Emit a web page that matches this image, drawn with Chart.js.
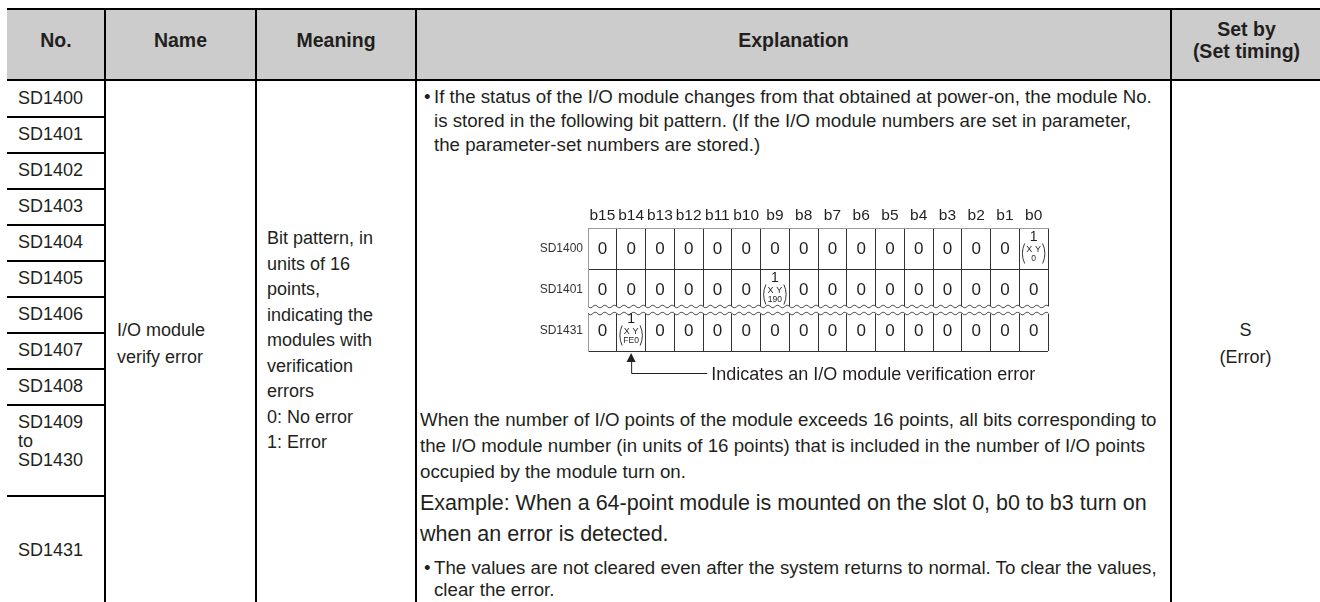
<!DOCTYPE html>
<html>
<head>
<meta charset="utf-8">
<script src="https://cdn.jsdelivr.net/npm/chart.js@4.4.1/dist/chart.umd.min.js"></script>
<style>
html, body { margin: 0; padding: 0; background: #fff; }
#page { position: relative; width: 1320px; height: 602px; overflow: hidden;
        font-family: "Liberation Sans", Arial, sans-serif; color: #231f20; }
.t { position: absolute; white-space: nowrap; }
.ln { position: absolute; background: #000; }
#bits { position: absolute; left: 490px; top: 195px; }
</style>
</head>
<body>
<div id="page"><canvas id="bits" width="580" height="195"></canvas></div>
<script>
// texts of the table
const headerLabels = ['No.', 'Name', 'Meaning', 'Explanation', 'Set by\n(Set timing)'];
const registerRows = ['SD1400', 'SD1401', 'SD1402', 'SD1403', 'SD1404', 'SD1405', 'SD1406',
                      'SD1407', 'SD1408', 'SD1409\nto\nSD1430', 'SD1431'];
const nameLines = ['I/O module', 'verify error'];
const meaningLines = ['Bit pattern, in', 'units of 16', 'points,', 'indicating the', 'modules with',
                      'verification', 'errors', '0: No error', '1: Error'];
const setByLines = ['S', '(Error)'];
const explanationTop = [
  '• If the status of the I/O module changes from that obtained at power-on, the module No.',
  'is stored in the following bit pattern. (If the I/O module numbers are set in parameter,',
  'the parameter-set numbers are stored.)'
];
const explanationMiddle = [
  'When the number of I/O points of the module exceeds 16 points, all bits corresponding to',
  'the I/O module number (in units of 16 points) that is included in the number of I/O points',
  'occupied by the module turn on.'
];
const exampleLines = [
  'Example: When a 64-point module is mounted on the slot 0, b0 to b3 turn on',
  'when an error is detected.'
];
const explanationLast = [
  '• The values are not cleared even after the system returns to normal. To clear the values,',
  'clear the error.'
];

// the bit pattern diagram
const bitLabels = ['b15', 'b14', 'b13', 'b12', 'b11', 'b10', 'b9', 'b8', 'b7', 'b6', 'b5', 'b4', 'b3', 'b2', 'b1', 'b0'];
const bitRegisters = ['SD1400', 'SD1401', 'SD1431'];
const bitValues = [
  [0, 0, 0, 0, 0, 0, 0, 0, 0, 0, 0, 0, 0, 0, 0, 1],
  [0, 0, 0, 0, 0, 0, 1, 0, 0, 0, 0, 0, 0, 0, 0, 0],
  [0, 1, 0, 0, 0, 0, 0, 0, 0, 0, 0, 0, 0, 0, 0, 0]
];
const bitAddresses = ['0', '190', 'FE0']; // número X/Y embaixo de cada "1"
const noteText = 'Indicates an I/O module verification error';

const page = document.getElementById('page');
const FONT = '"Liberation Sans", Arial, sans-serif';

// table grid
const colX = [7, 105, 256, 416, 1171, 1322];
const rowY = [80, 117, 153, 189, 225, 261, 297, 333, 369, 405, 496, 606];

function box(x, y, w, h, color) {
  const d = document.createElement('div');
  d.className = 'ln';
  d.style.left = x + 'px'; d.style.top = y + 'px';
  d.style.width = w + 'px'; d.style.height = h + 'px';
  if (color) d.style.background = color;
  page.appendChild(d);
}

function addText(str, x, y, opts = {}) {
  const d = document.createElement('div');
  const size = opts.size || 18;
  d.className = 't';
  d.textContent = str;
  d.style.fontSize = size + 'px';
  d.style.lineHeight = size + 'px';
  d.style.top = (y - size / 2) + 'px';
  d.style.left = x + 'px';
  if (opts.bold) d.style.fontWeight = 'bold';
  if (opts.width) { d.style.width = opts.width + 'px'; d.style.textAlign = 'center'; }
  page.appendChild(d);
}

// paragraphs starting with a bullet keep a hanging indent
function addLines(lines, y0, step, opts = {}) {
  const hanging = lines[0].startsWith('• ');
  lines.forEach((s, i) => {
    const y = y0 + i * step;
    if (s.startsWith('• ')) {
      addText('•', 424, y, opts);
      addText(s.slice(2), 434, y, opts);
    } else {
      addText(s, hanging ? 434 : 420, y, opts);
    }
  });
}

box(colX[0], 9, colX[5] - colX[0], 71, '#cccccc');
box(colX[0], 8, colX[5] - colX[0], 2);
box(colX[0], 79, colX[5] - colX[0], 2);
rowY.slice(1, -1).forEach(y => box(colX[0], y - 1, colX[1] - colX[0], 2));
colX.slice(1, 5).forEach(x => box(x - 1, 8, 2, 610));

headerLabels.forEach((h, i) => {
  const parts = h.split('\n');
  const w = colX[i + 1] - colX[i];
  const y0 = parts.length > 1 ? 30 : 41;
  parts.forEach((p, j) => addText(p, colX[i], y0 + j * 22, { bold: true, size: 19.5, width: w }));
});

registerRows.forEach((r, i) => {
  const parts = r.split('\n');
  if (parts.length > 1) {
    parts.forEach((p, j) => addText(p, 18, 422 + j * 19));
  } else {
    addText(r, 18, (rowY[i] + rowY[i + 1]) / 2 - 1);
  }
});

nameLines.forEach((s, i) => addText(s, 117, 330 + i * 27));
meaningLines.forEach((s, i) => addText(s, 267, 238 + i * 25.5));
setByLines.forEach((s, i) => addText(s, colX[4], 330 + i * 27, { width: colX[5] - colX[4] - 2 }));

addLines(explanationTop, 97, 24, { size: 18.7 });
addLines(explanationMiddle, 420, 26, { size: 18.7 });
addLines(exampleLines, 504, 31, { size: 21.5 });
addLines(explanationLast, 568, 22, { size: 18.7 });

// bit diagram with Chart.js (categories b15..b0 x SD14xx)
const bitPoints = [];
bitRegisters.forEach((reg, r) => {
  bitLabels.forEach((b, c) => bitPoints.push({ x: b, y: reg, v: bitValues[r][c], row: r }));
});

function wave(ctx, x0, x1, y) {
  ctx.beginPath();
  for (let x = x0; x <= x1; x += 1) {
    const yy = y + 1.3 * Math.sin((x - x0) / 9.6 * Math.PI * 2);
    if (x === x0) ctx.moveTo(x, yy); else ctx.lineTo(x, yy);
  }
  ctx.stroke();
}

const bitPlugin = {
  id: 'bitPlugin',
  afterDraw(chart) {
    const ctx = chart.ctx;
    const xs = chart.scales.x, ys = chart.scales.y;
    const area = chart.chartArea;
    const rowH = ys.getPixelForValue(1) - ys.getPixelForValue(0);
    const meta = chart.getDatasetMeta(0);

    // ruptura ondulada entre SD1401 e SD1431
    const yb = (ys.getPixelForValue(1) + ys.getPixelForValue(2)) / 2;
    ctx.save();
    ctx.fillStyle = '#fff';
    ctx.fillRect(area.left - 1, yb - 3.5, area.right - area.left + 2, 7);
    ctx.strokeStyle = '#444';
    ctx.lineWidth = 0.9;
    wave(ctx, area.left, area.right, yb - 3.5);
    wave(ctx, area.left, area.right, yb + 3.5);

    ctx.fillStyle = '#231f20';
    ctx.textAlign = 'center';
    ctx.textBaseline = 'middle';
    meta.data.forEach((el, i) => {
      const p = bitPoints[i];
      if (p.v === 0) {
        ctx.font = '17px ' + FONT;
        ctx.fillText('0', el.x, el.y + 1);
      } else {
        ctx.font = '14px ' + FONT;
        ctx.fillText('1', el.x, el.y - 11);
        ctx.font = '9px ' + FONT;
        ctx.fillText('X Y', el.x, el.y + 1);
        ctx.font = '8.5px ' + FONT;
        ctx.fillText(bitAddresses[p.row], el.x, el.y + 10);
        ctx.strokeStyle = '#231f20';
        ctx.lineWidth = 0.9;
        const w = 12.5, top = el.y - 5, bot = el.y + 15;
        ctx.beginPath();
        ctx.moveTo(el.x - w + 3.5, top);
        ctx.quadraticCurveTo(el.x - w - 1, (top + bot) / 2, el.x - w + 3.5, bot);
        ctx.moveTo(el.x + w - 3.5, top);
        ctx.quadraticCurveTo(el.x + w + 1, (top + bot) / 2, el.x + w - 3.5, bot);
        ctx.stroke();
      }
    });

    // seta apontando o bit com erro em SD1431
    const ax = xs.getPixelForValue(bitValues[2].indexOf(1));
    const ay = ys.getPixelForValue(2) + rowH / 2;
    ctx.fillStyle = '#231f20';
    ctx.beginPath();
    ctx.moveTo(ax, ay + 2);
    ctx.lineTo(ax - 4.5, ay + 11);
    ctx.lineTo(ax + 4.5, ay + 11);
    ctx.closePath();
    ctx.fill();
    ctx.strokeStyle = '#231f20';
    ctx.lineWidth = 1;
    ctx.beginPath();
    ctx.moveTo(ax + 0.5, ay + 11);
    ctx.lineTo(ax + 0.5, ay + 22.5);
    ctx.lineTo(ax + 76, ay + 22.5);
    ctx.stroke();
    ctx.textAlign = 'left';
    ctx.font = '18px ' + FONT;
    ctx.fillText(noteText, ax + 80, ay + 24);
    ctx.restore();
  }
};

const gridColor = (n) => (c) => (c.index === 0 || c.index === n) ? '#9a9a9a' : '#333';

new Chart(document.getElementById('bits').getContext('2d'), {
  type: 'scatter',
  data: { datasets: [{ data: bitPoints, pointRadius: 0, showLine: false }] },
  options: {
    responsive: false,
    animation: false,
    events: [],
    layout: { padding: { left: 0, top: 0, right: 22, bottom: 39 } },
    plugins: { legend: { display: false }, tooltip: { enabled: false } },
    scales: {
      x: {
        type: 'category', labels: bitLabels, position: 'top', offset: true,
        grid: { offset: true, drawTicks: false, color: gridColor(16), lineWidth: 1 },
        border: { color: '#9a9a9a' },
        ticks: { color: '#231f20', font: { family: FONT, size: 15.5 }, padding: 3, autoSkip: false, maxRotation: 0 },
        afterFit: s => { s.height = 33; }
      },
      y: {
        type: 'category', labels: bitRegisters, offset: true,
        grid: { offset: true, drawTicks: false, color: gridColor(3), lineWidth: 1 },
        border: { color: '#9a9a9a' },
        ticks: { color: '#333', font: { family: FONT, size: 12 }, padding: 5 },
        afterFit: s => { s.width = 98; }
      }
    }
  },
  plugins: [bitPlugin]
});
</script>
</body>
</html>
